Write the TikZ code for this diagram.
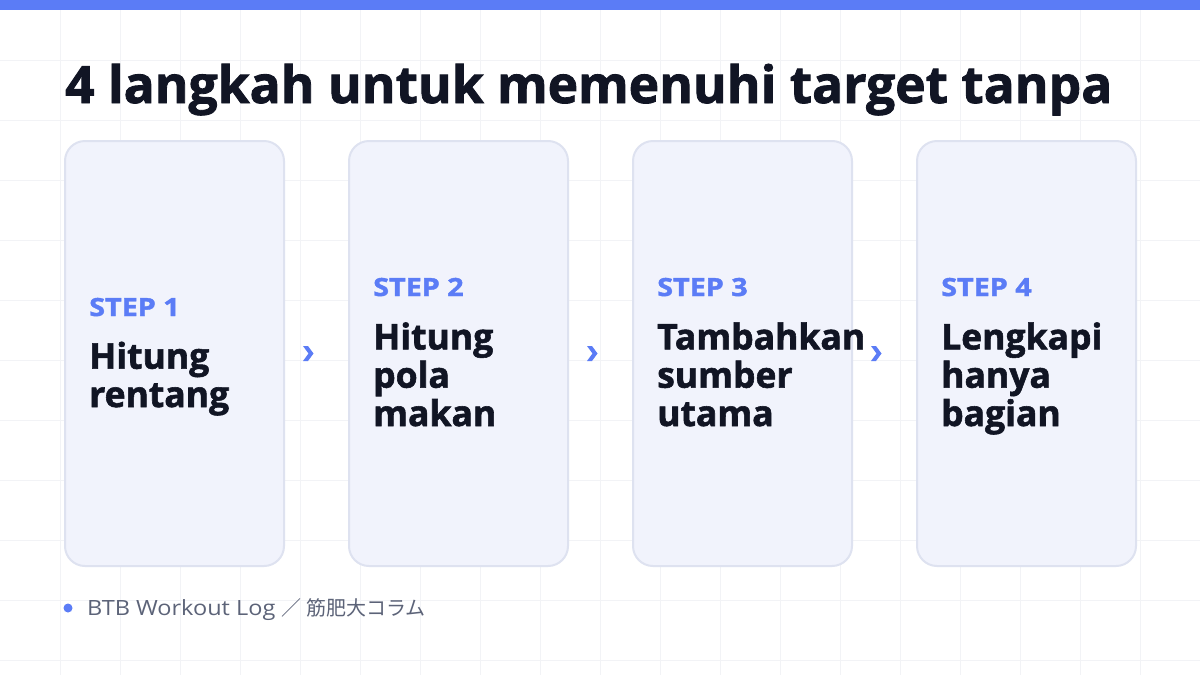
\documentclass[tikz,border=0pt]{standalone}
\usepackage{fontspec}
\usepackage{tikz}
\usetikzlibrary{positioning}
\setmainfont{Open Sans}[BoldFeatures={FakeBold=1.6}]
\newfontfamily\jpfont{Noto Sans CJK JP}
\newfontfamily\widesans{Open Sans}[FakeStretch=1.12]
\definecolor{accentblue}{RGB}{91,124,246}
\definecolor{cardfill}{RGB}{241,243,252}
\definecolor{cardline}{RGB}{222,226,240}
\definecolor{gridgray}{RGB}{242,243,246}
\definecolor{inkdark}{RGB}{17,21,36}
\definecolor{footgray}{RGB}{92,99,120}

\begin{document}
\begin{tikzpicture}[x=1pt,y=-1pt,
  card/.style={draw=cardline,line width=2pt,fill=cardfill,rounded corners=20pt,
    minimum width=219pt,minimum height=425pt,inner sep=0pt},
  steplabel/.style={anchor=base west,inner sep=0pt,text=accentblue,
    font=\fontsize{25}{25}\selectfont\bfseries\addfontfeature{FakeStretch=1.15}},
  stepbody/.style={anchor=base west,inner sep=0pt,text=inkdark,align=left,
    font=\fontsize{35.5}{38.3}\selectfont\bfseries}]
% Draw the page and the faint grid
\fill[white] (0,0) rectangle (1200,675);
\useasboundingbox (0,0) rectangle (1200,675);
\foreach \gx in {60,120,...,1140}
  \draw[gridgray,line width=1pt] (\gx,10) -- (\gx,675);
\foreach \gy in {60,120,...,660}
  \draw[gridgray,line width=1pt] (0,\gy) -- (1200,\gy);
% Draw the top bar
\fill[accentblue] (0,0) rectangle (1200,10);
% Title
\node[anchor=base west,inner sep=0pt,text=inkdark,
  font=\fontsize{51.5}{51.5}\selectfont\bfseries] (title) at (65,103)
  {4 langkah untuk memenuhi target tanpa};
% Draw the four cards
\node[card] (s1) at (174.5,353.5) {};
\node[card,right=63pt of s1] (s2) {};
\node[card,right=63pt of s2] (s3) {};
\node[card,right=63pt of s3] (s4) {};
% Labels in the cards (body anchored on its last line)
\node[steplabel] (lab1) at ([shift={(25,176)}]s1.north west) {STEP 1};
\node[stepbody] (txt1) at ([shift={(25,267)}]s1.north west) {Hitung\\rentang};
\node[steplabel] (lab2) at ([shift={(25,156)}]s2.north west) {STEP 2};
\node[stepbody] (txt2) at ([shift={(25,286)}]s2.north west) {Hitung\\pola\\makan};
\node[steplabel] (lab3) at ([shift={(25,156)}]s3.north west) {STEP 3};
\node[stepbody] (txt3) at ([shift={(25,286)}]s3.north west) {Tambahkan\\sumber\\utama};
\node[steplabel] (lab4) at ([shift={(25,156)}]s4.north west) {STEP 4};
\node[stepbody] (txt4) at ([shift={(25,286)}]s4.north west) {Lengkapi\\hanya\\bagian};
% Draw the chevrons between cards
\foreach \a in {1,2,3}
  \fill[accentblue] ([xshift=18pt]s\a.east) ++(0,-7.5) -- ++(5,0) -- ++(5.5,7.5)
    -- ++(-5.5,7.5) -- ++(-5,0) -- ++(5.5,-7.5) -- cycle;
% Footer
\node[circle,fill=accentblue,inner sep=0pt,minimum size=9pt] (dot) at (68,608) {};
\node[anchor=base west,inner sep=0pt,text=footgray,font=\fontsize{21}{21}\selectfont]
  (foot) at (87,615) {\widesans BTB Workout Log {\jpfont\fontsize{20}{20}\selectfont ／ 筋肥大コラム}};
\end{tikzpicture}
\end{document}
